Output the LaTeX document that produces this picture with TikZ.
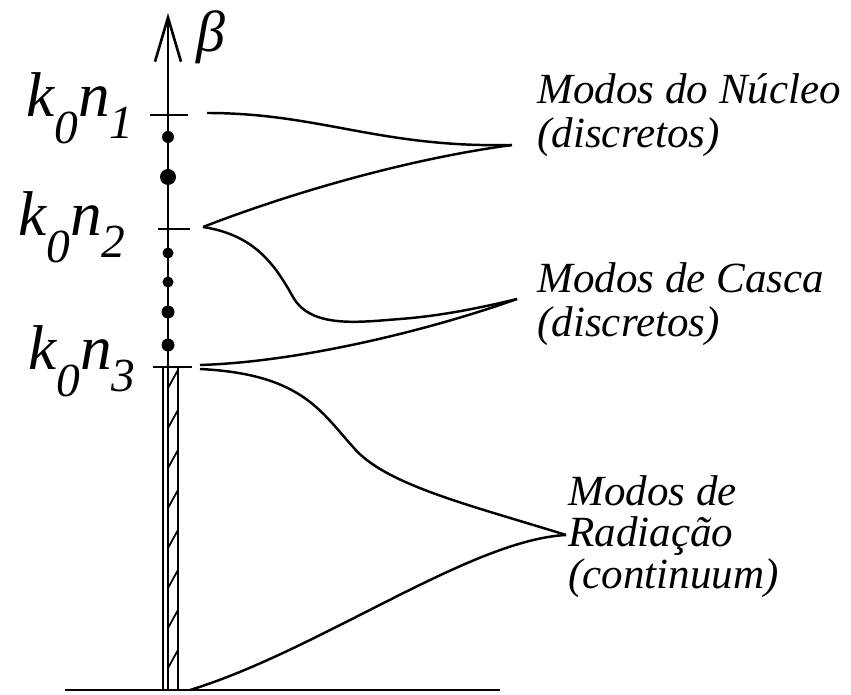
\documentclass[tikz,border=0pt]{standalone}
\usepackage{fontspec}
\setmainfont{LiberationSerif}[Extension=.ttf, UprightFont=*-Regular, ItalicFont=*-Italic, BoldFont=*-Bold]
\usetikzlibrary{arrows.meta,positioning}

\newcommand{\kidx}[1]{\textit{k\raisebox{-15pt}{\fontsize{27}{27}\selectfont 0}n\raisebox{-12pt}{\fontsize{27}{27}\selectfont #1}}}

\begin{document}
\begin{tikzpicture}[
    x=0.02cm, y=-0.02cm,
    curve/.style={line width=1.4pt},
    tick/.style={line width=1.5pt},
    klbl/.style={font=\fontsize{36}{38}\selectfont, inner sep=0pt, anchor=base west},
    mlbl/.style={font=\fontsize{24.5}{25.5}\selectfont\itshape, align=left, inner sep=0pt, anchor=base west}
]
    \useasboundingbox (0,0) rectangle (851,695);

    % Axis
    \draw[line width=1.5pt] (65,690) -- (500,690);
    \draw[line width=1.5pt, -{Straight Barb[length=8.8mm,width=5.2mm]}] (168,690) -- (168,13);
    \node[klbl, font=\fontsize{33}{33}\selectfont] (beta) at (196,52) {\textit{β}};

    % Levels
    \draw[tick] (150,115) -- (188,115);
    \draw[tick] (158,229) -- (190,229);
    \draw[tick] (153,367) -- (192,367);
    \node[klbl] (kn1) at (26,117) {\kidx{1}};
    \node[klbl] (kn2) at (18,236) {\kidx{2}};
    \node[klbl] (kn3) at (28,370) {\kidx{3}};

    % Discrete modes on the axis
    \foreach \y/\r in {137/6, 177/8, 253/5.5, 282/5.5, 312/6.5, 345/6.5} {
        \fill (168,\y) circle[radius=\r];
    }

    % Continuum strip
    \draw[line width=1.2pt] (163,367) -- (163,690);
    \draw[line width=1.2pt] (178,367) -- (178,690);
    \foreach \y in {388,428,...,688} { \draw[line width=1pt] (168,\y) -- (178,\y-18); }

    % Labels (base = last line)
    \node[mlbl] (nucleo) at (537,148) {Modos do Núcleo\\(discretos)};
    \node[mlbl] (casca) at (537,337) {Modos de Casca\\(discretos)};
    \node[mlbl, font=\fontsize{24.5}{23.5}\selectfont\itshape] (radiacao) at (568,588) {Modos de\\Radiação\\(continuum)};

    % Start and end points
    \coordinate (s1) at (207,113);
    \coordinate (s2) at (203,227);
    \coordinate (s3a) at (200,365);
    \coordinate (s3b) at (200,369);
    \coordinate (s0) at (190,690);
    \coordinate (cn) at (512,145);
    \coordinate (cc) at (517,299);
    \coordinate (cr) at (566,535);

    % Mode curves
    \draw[curve] (s1) .. controls (320,113) and (380,148) .. (cn);
    \draw[curve] (s2) .. controls (280,197) and (400,160) .. (cn);
    \draw[curve] (s2) .. controls (255,235) and (275,265) .. (293,297)
        .. controls (311,329) and (360,322) .. (400,319)
        .. controls (440,316) and (480,308) .. (cc);
    \draw[curve] (s3a) .. controls (300,362) and (430,330) .. (cc);
    \draw[curve] (s3b) .. controls (300,374) and (320,410) .. (353,447)
        .. controls (385,485) and (470,505) .. (cr);
    \draw[curve] (s0) .. controls (320,650) and (470,540) .. (cr);
\end{tikzpicture}
\end{document}
